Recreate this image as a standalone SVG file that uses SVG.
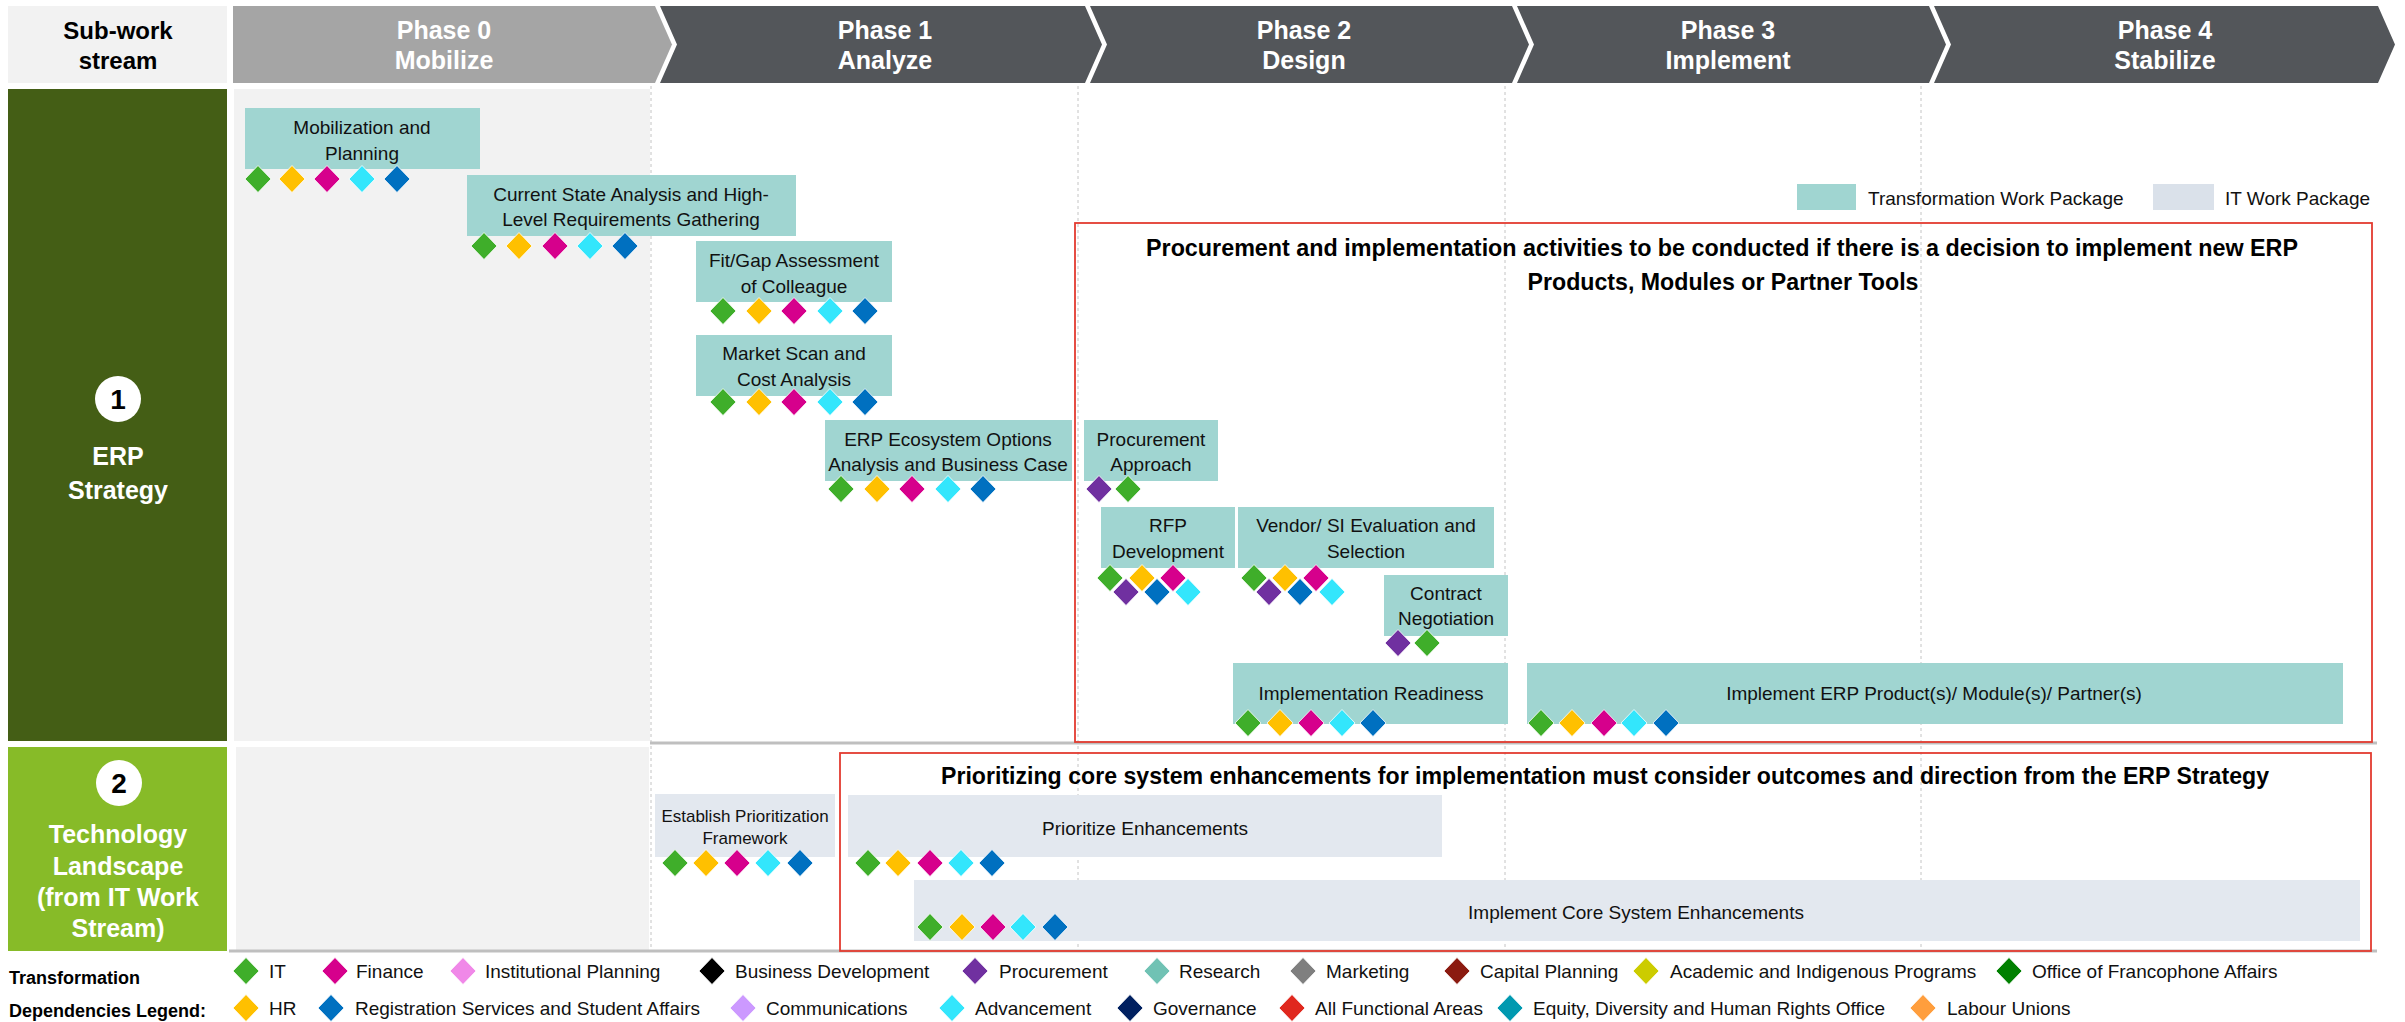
<svg xmlns="http://www.w3.org/2000/svg" width="2405" height="1022" viewBox="0 0 2405 1022">
<style>
text{font-family:"Liberation Sans",Arial,sans-serif}
.hd{font-size:25px;font-weight:bold;fill:#fff;text-anchor:middle}
.hk{font-size:24px;font-weight:bold;fill:#000;text-anchor:middle}
.lb{font-size:25px;font-weight:bold;fill:#fff;text-anchor:middle}
.num{font-size:28px;font-weight:bold;fill:#000;text-anchor:middle}
.tk{font-size:19px;fill:#111;text-anchor:middle}
.tks{font-size:17px;fill:#111;text-anchor:middle}
.tw{fill:#a0d5d1}
.ti{fill:#e3e8ef}
.ttl{font-size:24px;font-weight:bold;fill:#000;text-anchor:middle}
.lg{font-size:19px;fill:#111}
.lgb{font-size:18px;font-weight:bold;fill:#000}
.grid{stroke:#c4c4c4;stroke-width:1;stroke-dasharray:3 3;fill:none}
.sep{stroke:#bfbfbf;stroke-width:3}
.red{fill:none;stroke:#e33b30;stroke-width:1.8}
.g{fill:#3fae2a}.y{fill:#ffc000}.m{fill:#d6008c}.c{fill:#33e6fc}.b{fill:#0070c0}.p{fill:#7030a0}
.ip{fill:#f088e8}.bd{fill:#000}.rs{fill:#70c2b4}.mk{fill:#7f7f7f}.cp{fill:#8b1a10}.ac{fill:#cccc00}.fr{fill:#008000}
.cm{fill:#cc99ff}.gv{fill:#002060}.af{fill:#e0281e}.eq{fill:#0099b0}.lu{fill:#ff9e3d}
</style>
<defs>
<path id="dm" d="M0,-13.5L13,0L0,13.5L-13,0Z" stroke="#fff" stroke-width="0.8"/>
</defs>
<rect width="2405" height="1022" fill="#fff"/>

<!-- header -->
<g id="header">
  <g id="hdr-subwork">
    <rect x="8" y="6" width="219" height="77" fill="#f2f2f2"/>
    <text class="hk" x="118" y="39">Sub-work</text>
    <text class="hk" x="118" y="69">stream</text>
  </g>
  <g id="phase0">
    <polygon points="233,6 655,6 672,44.5 655,83 233,83" fill="#a5a5a5"/>
    <text class="hd" x="444" y="39">Phase 0</text>
    <text class="hd" x="444" y="69">Mobilize</text>
  </g>
  <g id="phase1">
    <polygon points="660,6 1085,6 1102,44.5 1085,83 660,83 677,44.5" fill="#53565a"/>
    <text class="hd" x="885" y="39">Phase 1</text>
    <text class="hd" x="885" y="69">Analyze</text>
  </g>
  <g id="phase2">
    <polygon points="1090,6 1512,6 1529,44.5 1512,83 1090,83 1107,44.5" fill="#53565a"/>
    <text class="hd" x="1304" y="39">Phase 2</text>
    <text class="hd" x="1304" y="69">Design</text>
  </g>
  <g id="phase3">
    <polygon points="1517,6 1929,6 1946,44.5 1929,83 1517,83 1534,44.5" fill="#53565a"/>
    <text class="hd" x="1728" y="39">Phase 3</text>
    <text class="hd" x="1728" y="69">Implement</text>
  </g>
  <g id="phase4">
    <polygon points="1934,6 2378,6 2395,44.5 2378,83 1934,83 1951,44.5" fill="#53565a"/>
    <text class="hd" x="2165" y="39">Phase 4</text>
    <text class="hd" x="2165" y="69">Stabilize</text>
  </g>
</g>

<!-- background grid -->
<g id="grid">
  <rect x="234" y="89" width="416" height="652" fill="#f2f2f2"/>
  <rect x="236" y="747" width="413" height="204" fill="#f2f2f2"/>
  <line class="grid" x1="651" y1="86" x2="651" y2="951"/>
  <line class="grid" x1="1078" y1="86" x2="1078" y2="951"/>
  <line class="grid" x1="1505" y1="86" x2="1505" y2="951"/>
  <line class="grid" x1="1921" y1="86" x2="1921" y2="951"/>
  <line class="sep" x1="650" y1="743" x2="2377" y2="743"/>
  <line class="sep" x1="229" y1="951" x2="2377" y2="951"/>
</g>

<!-- row labels -->
<g id="row-erp">
  <rect x="8" y="89" width="219" height="652" fill="#445e15"/>
  <circle cx="118" cy="399" r="23" fill="#fff"/>
  <text class="num" x="118" y="409">1</text>
  <text class="lb" x="118" y="465">ERP</text>
  <text class="lb" x="118" y="499">Strategy</text>
</g>
<g id="row-tech">
  <rect x="8" y="747" width="219" height="204" fill="#87bb28"/>
  <circle cx="119" cy="783" r="23" fill="#fff"/>
  <text class="num" x="119" y="793">2</text>
  <text class="lb" x="118" y="843">Technology</text>
  <text class="lb" x="118" y="875">Landscape</text>
  <text class="lb" x="118" y="906">(from IT Work</text>
  <text class="lb" x="118" y="937">Stream)</text>
</g>

<!-- package legend -->
<g id="package-legend">
  <rect class="tw" x="1797" y="184" width="59" height="26"/>
  <text class="lg" x="1868" y="205">Transformation Work Package</text>
  <rect x="2153" y="184" width="61" height="26" fill="#dae1ea"/>
  <text class="lg" x="2225" y="205">IT Work Package</text>
</g>

<!-- red frames -->
<g id="frame-procurement">
  <rect class="red" x="1075" y="223" width="1297" height="519"/>
  <text class="ttl" x="1722" y="256" textLength="1152" lengthAdjust="spacingAndGlyphs">Procurement and implementation activities to be conducted if there is a decision to implement new ERP</text>
  <text class="ttl" x="1723" y="290" textLength="391" lengthAdjust="spacingAndGlyphs">Products, Modules or Partner Tools</text>
</g>
<g id="frame-prioritizing">
  <rect class="red" x="840" y="753" width="1531" height="198"/>
  <text class="ttl" x="1605" y="784" textLength="1328" lengthAdjust="spacingAndGlyphs">Prioritizing core system enhancements for implementation must consider outcomes and direction from the ERP Strategy</text>
</g>

<!-- tasks -->
<g id="task-mobilization">
  <rect class="tw" x="245" y="108" width="235" height="61"/>
  <text class="tk" x="362" y="134">Mobilization and</text>
  <text class="tk" x="362" y="160">Planning</text>
  <use href="#dm" class="g" x="258" y="179"/><use href="#dm" class="y" x="292" y="179"/><use href="#dm" class="m" x="327" y="179"/><use href="#dm" class="c" x="362" y="179"/><use href="#dm" class="b" x="397" y="179"/>
</g>
<g id="task-current-state">
  <rect class="tw" x="467" y="175" width="329" height="61"/>
  <text class="tk" x="631" y="201">Current State Analysis and High-</text>
  <text class="tk" x="631" y="226">Level Requirements Gathering</text>
  <use href="#dm" class="g" x="484" y="246"/><use href="#dm" class="y" x="519" y="246"/><use href="#dm" class="m" x="555" y="246"/><use href="#dm" class="c" x="590" y="246"/><use href="#dm" class="b" x="625" y="246"/>
</g>
<g id="task-fitgap">
  <rect class="tw" x="696" y="241" width="196" height="61"/>
  <text class="tk" x="794" y="267">Fit/Gap Assessment</text>
  <text class="tk" x="794" y="293">of Colleague</text>
  <use href="#dm" class="g" x="723" y="311"/><use href="#dm" class="y" x="759" y="311"/><use href="#dm" class="m" x="794" y="311"/><use href="#dm" class="c" x="830" y="311"/><use href="#dm" class="b" x="865" y="311"/>
</g>
<g id="task-market-scan">
  <rect class="tw" x="696" y="335" width="196" height="61"/>
  <text class="tk" x="794" y="360">Market Scan and</text>
  <text class="tk" x="794" y="386">Cost Analysis</text>
  <use href="#dm" class="g" x="723" y="402"/><use href="#dm" class="y" x="759" y="402"/><use href="#dm" class="m" x="794" y="402"/><use href="#dm" class="c" x="830" y="402"/><use href="#dm" class="b" x="865" y="402"/>
</g>
<g id="task-erp-ecosystem">
  <rect class="tw" x="825" y="420" width="247" height="61"/>
  <text class="tk" x="948" y="446">ERP Ecosystem Options</text>
  <text class="tk" x="948" y="471">Analysis and Business Case</text>
  <use href="#dm" class="g" x="841" y="489"/><use href="#dm" class="y" x="877" y="489"/><use href="#dm" class="m" x="912" y="489"/><use href="#dm" class="c" x="948" y="489"/><use href="#dm" class="b" x="983" y="489"/>
</g>
<g id="task-procurement-approach">
  <rect class="tw" x="1084" y="420" width="134" height="61"/>
  <text class="tk" x="1151" y="446">Procurement</text>
  <text class="tk" x="1151" y="471">Approach</text>
  <use href="#dm" class="p" x="1099" y="489"/><use href="#dm" class="g" x="1128" y="489"/>
</g>
<g id="task-rfp">
  <rect class="tw" x="1101" y="507" width="134" height="61"/>
  <text class="tk" x="1168" y="532">RFP</text>
  <text class="tk" x="1168" y="558">Development</text>
  <use href="#dm" class="g" x="1110" y="578"/><use href="#dm" class="y" x="1142" y="578"/><use href="#dm" class="m" x="1173" y="578"/>
  <use href="#dm" class="p" x="1126" y="592"/><use href="#dm" class="b" x="1157" y="592"/><use href="#dm" class="c" x="1188" y="592"/>
</g>
<g id="task-vendor">
  <rect class="tw" x="1238" y="507" width="256" height="61"/>
  <text class="tk" x="1366" y="532">Vendor/ SI Evaluation and</text>
  <text class="tk" x="1366" y="558">Selection</text>
  <use href="#dm" class="g" x="1254" y="578"/><use href="#dm" class="y" x="1285" y="578"/><use href="#dm" class="m" x="1316" y="578"/>
  <use href="#dm" class="p" x="1269" y="592"/><use href="#dm" class="b" x="1300" y="592"/><use href="#dm" class="c" x="1332" y="592"/>
</g>
<g id="task-contract">
  <rect class="tw" x="1384" y="575" width="124" height="61"/>
  <text class="tk" x="1446" y="600">Contract</text>
  <text class="tk" x="1446" y="625">Negotiation</text>
  <use href="#dm" class="p" x="1398" y="643"/><use href="#dm" class="g" x="1427" y="643"/>
</g>
<g id="task-impl-readiness">
  <rect class="tw" x="1233" y="663" width="275" height="61"/>
  <text class="tk" x="1371" y="700">Implementation Readiness</text>
  <use href="#dm" class="g" x="1248" y="723"/><use href="#dm" class="y" x="1280" y="723"/><use href="#dm" class="m" x="1311" y="723"/><use href="#dm" class="c" x="1342" y="723"/><use href="#dm" class="b" x="1373" y="723"/>
</g>
<g id="task-impl-erp">
  <rect class="tw" x="1527" y="663" width="816" height="61"/>
  <text class="tk" x="1934" y="700">Implement ERP Product(s)/ Module(s)/ Partner(s)</text>
  <use href="#dm" class="g" x="1541" y="723"/><use href="#dm" class="y" x="1572" y="723"/><use href="#dm" class="m" x="1604" y="723"/><use href="#dm" class="c" x="1634" y="723"/><use href="#dm" class="b" x="1666" y="723"/>
</g>
<g id="task-establish">
  <rect class="ti" x="655" y="794" width="180" height="63"/>
  <text class="tks" x="745" y="822">Establish Prioritization</text>
  <text class="tks" x="745" y="844">Framework</text>
  <use href="#dm" class="g" x="675" y="863"/><use href="#dm" class="y" x="706" y="863"/><use href="#dm" class="m" x="737" y="863"/><use href="#dm" class="c" x="768" y="863"/><use href="#dm" class="b" x="800" y="863"/>
</g>
<g id="task-prioritize">
  <rect class="ti" x="848" y="795" width="594" height="62"/>
  <text class="tk" x="1145" y="835">Prioritize Enhancements</text>
  <use href="#dm" class="g" x="868" y="863"/><use href="#dm" class="y" x="898" y="863"/><use href="#dm" class="m" x="930" y="863"/><use href="#dm" class="c" x="961" y="863"/><use href="#dm" class="b" x="992" y="863"/>
</g>
<g id="task-impl-core">
  <rect class="ti" x="914" y="880" width="1446" height="61"/>
  <text class="tk" x="1636" y="919">Implement Core System Enhancements</text>
  <use href="#dm" class="g" x="930" y="927"/><use href="#dm" class="y" x="962" y="927"/><use href="#dm" class="m" x="993" y="927"/><use href="#dm" class="c" x="1023" y="927"/><use href="#dm" class="b" x="1055" y="927"/>
</g>

<g id="connectors"></g>

<!-- dependencies legend -->
<g id="dependencies-legend">
  <text class="lgb" x="9" y="984">Transformation</text>
  <text class="lgb" x="9" y="1017">Dependencies Legend:</text>
  <use href="#dm" class="g" x="246" y="971"/><text class="lg" x="269" y="978">IT</text>
  <use href="#dm" class="m" x="335" y="971"/><text class="lg" x="356" y="978">Finance</text>
  <use href="#dm" class="ip" x="463" y="971"/><text class="lg" x="485" y="978">Institutional Planning</text>
  <use href="#dm" class="bd" x="712" y="971"/><text class="lg" x="735" y="978">Business Development</text>
  <use href="#dm" class="p" x="975" y="971"/><text class="lg" x="999" y="978">Procurement</text>
  <use href="#dm" class="rs" x="1157" y="971"/><text class="lg" x="1179" y="978">Research</text>
  <use href="#dm" class="mk" x="1303" y="971"/><text class="lg" x="1326" y="978">Marketing</text>
  <use href="#dm" class="cp" x="1457" y="971"/><text class="lg" x="1480" y="978">Capital Planning</text>
  <use href="#dm" class="ac" x="1646" y="971"/><text class="lg" x="1670" y="978">Academic and Indigenous Programs</text>
  <use href="#dm" class="fr" x="2009" y="971"/><text class="lg" x="2032" y="978">Office of Francophone Affairs</text>
  <use href="#dm" class="y" x="246" y="1008"/><text class="lg" x="269" y="1015">HR</text>
  <use href="#dm" class="b" x="331" y="1008"/><text class="lg" x="355" y="1015">Registration Services and Student Affairs</text>
  <use href="#dm" class="cm" x="743" y="1008"/><text class="lg" x="766" y="1015">Communications</text>
  <use href="#dm" class="c" x="952" y="1008"/><text class="lg" x="975" y="1015">Advancement</text>
  <use href="#dm" class="gv" x="1130" y="1008"/><text class="lg" x="1153" y="1015">Governance</text>
  <use href="#dm" class="af" x="1292" y="1008"/><text class="lg" x="1315" y="1015">All Functional Areas</text>
  <use href="#dm" class="eq" x="1510" y="1008"/><text class="lg" x="1533" y="1015">Equity, Diversity and Human Rights Office</text>
  <use href="#dm" class="lu" x="1923" y="1008"/><text class="lg" x="1947" y="1015">Labour Unions</text>
</g>
</svg>
